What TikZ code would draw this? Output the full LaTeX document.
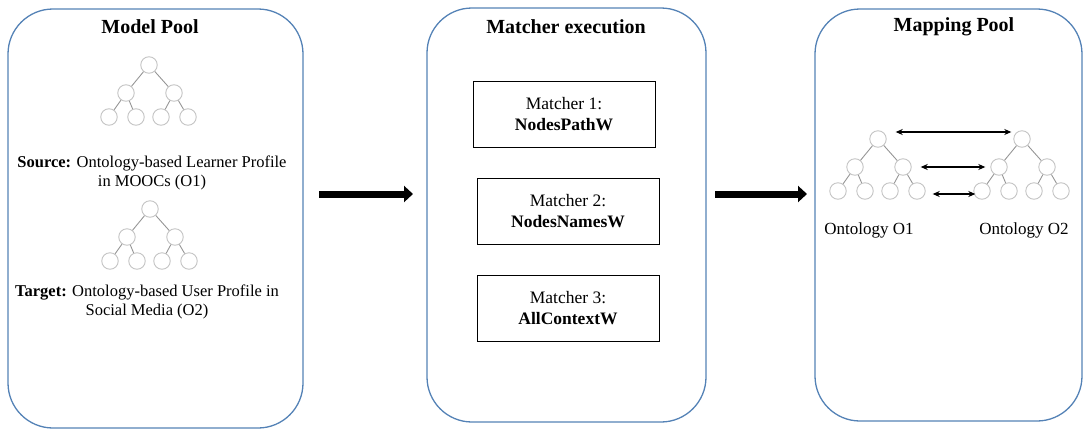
\documentclass[tikz,border=0pt]{standalone}
\usepackage{fontspec}
\setmainfont{Liberation Serif}
\usetikzlibrary{arrows.meta}

\definecolor{panelblue}{RGB}{84,130,182}
\definecolor{treecirc}{RGB}{196,196,196}
\definecolor{treeedge}{RGB}{150,150,150}

\tikzset{
  panel/.style={draw=panelblue, line width=1.3pt, rounded corners=45pt,
    inner sep=0pt, outer sep=0pt},
  title/.style={font=\fontsize{20}{24}\selectfont\bfseries},
  desc/.style={font=\fontsize{16.5}{19}\selectfont, align=center, inner sep=0pt},
  matcherbox/.style={draw=black, line width=0.9pt, minimum width=182pt,
    minimum height=66pt, align=center, inner sep=0pt,
    font=\fontsize{17.5}{21}\selectfont},
  ontolabel/.style={font=\fontsize{17}{20}\selectfont, inner sep=0pt},
  tn/.style={circle, draw=treecirc, fill=white, line width=0.9pt,
    minimum size=16.5pt, inner sep=0pt},
  tedge/.style={draw=treeedge, line width=0.9pt},
  bigarrow/.style={line width=7pt, -{Triangle[length=9pt,width=16pt]}},
  dblarrow/.style={line width=1.3pt, {Stealth[length=7pt,width=6pt]}-{Stealth[length=7pt,width=6pt]}},
  ontotree/.pic={
    \node[tn] (-r)  at (0,0)   {};
    \node[tn] (-a)  at (-23,28) {};
    \node[tn] (-b)  at (25,28) {};
    \node[tn] (-a1) at (-40,52) {};
    \node[tn] (-a2) at (-13,52) {};
    \node[tn] (-b1) at (12,52) {};
    \node[tn] (-b2) at (39,52) {};
    \draw[tedge] (-r) -- (-a) (-r) -- (-b)
      (-a) -- (-a1) (-a) -- (-a2) (-b) -- (-b1) (-b) -- (-b2);
  }
}

\begin{document}
\begin{tikzpicture}[x=1pt, y=-1pt]
  \useasboundingbox (0,0) rectangle (1085,429);

  % three pools
  \node[panel, minimum width=295pt, minimum height=419pt] (p1) at (155.5,218.5) {};
  \node[panel, minimum width=279pt, minimum height=414pt] (p2) at (566.5,215) {};
  \node[panel, minimum width=267pt, minimum height=412pt] (p3) at (948.5,215) {};

  \node[title] (t1) at (150,27) {Model Pool};
  \node[title] (t2) at (566,27) {Matcher execution};
  \node[title] (t3) at (954,27) {Mapping Pool};

  % model pool: source and target ontologies
  \pic (src) at (149,65) {ontotree};
  \node[desc] (srclabel) at (152,172.5)
    {\textbf{Source:} Ontology-based Learner Profile\\in MOOCs (O1)};
  \pic (tgt) at (150,209) {ontotree};
  \node[desc] (tgtlabel) at (147,301.5)
    {\textbf{Target:} Ontology-based User Profile in\\Social Media (O2)};

  % matchers
  \node[matcherbox] (m1) at (564,114) {Matcher 1:\\\textbf{NodesPathW}};
  \node[matcherbox] (m2) at (568,211) {Matcher 2:\\\textbf{NodesNamesW}};
  \node[matcherbox] (m3) at (568,308) {Matcher 3:\\\textbf{AllContextW}};

  % mapping pool: aligned ontologies
  \pic (oa) at (878,139) {ontotree};
  \pic (ob) at (1022,139) {ontotree};
  \node[ontolabel] (oalabel) at (869,230) {Ontology O1};
  \node[ontolabel] (oblabel) at (1024,230) {Ontology O2};

  \draw[dblarrow] ([shift={(9,-7)}]oa-r.east) -- ([shift={(-2,-7)}]ob-r.west);
  \draw[dblarrow] ([shift={(9,0)}]oa-b.east) -- ([shift={(-5,0)}]ob-a.west);
  \draw[dblarrow] ([shift={(7,3)}]oa-b2.east) -- ([shift={(2,3)}]ob-a1.west);

  % flow between pools
  \draw[bigarrow] ([shift={(16,-24.5)}]p1.east) -- ([shift={(-14,-21)}]p2.west);
  \draw[bigarrow] ([shift={(9,-21)}]p2.east) -- ([shift={(-8,-21)}]p3.west);
\end{tikzpicture}
\end{document}
